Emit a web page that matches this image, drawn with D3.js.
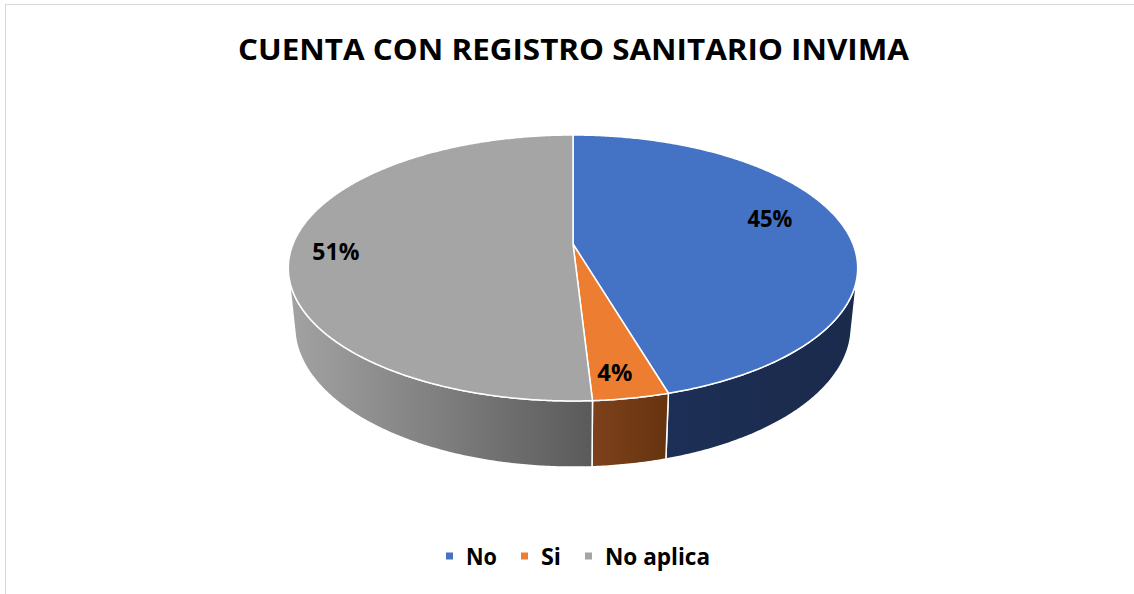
<!DOCTYPE html>
<html>
<head>
<meta charset="utf-8">
<script src="https://cdn.jsdelivr.net/npm/d3@7"></script>
<style>
  body { margin: 0; background: #fff; }
  text { font-family: "Open Sans", "Noto Sans", sans-serif; font-weight: 700; fill: #000; }
</style>
</head>
<body>
<svg id="chart"></svg>
<script>
const title = "CUENTA CON REGISTRO SANITARIO INVIMA";
const categories = ["No", "Si", "No aplica"];
const values = [25, 2, 28];
const topColors = ["#4472C4", "#ED7D31", "#A5A5A5"];
const sideColors = [["#1d2f56", "#1a2a4b"], ["#7d411c", "#66340f"], ["#a3a3a3", "#5a5a5a"]];

const width = 1134;
const height = 594;

const total = d3.sum(values);
const labels = values.map(v => Math.round(v / total * 100) + "%");

const svg = d3.select("#chart")
    .attr("width", width)
    .attr("height", height);

svg.append("rect")
    .attr("x", 5.5).attr("y", 4.5)
    .attr("width", width).attr("height", height)
    .attr("fill", "#fff")
    .attr("stroke", "#d9d9d9");

// camera for the tilted pie
const cam = { cx: 573, cy: 244, f: 1379, dist: 4.925, tilt: 27.35 * Math.PI / 180, depth: 0.238 };
const cosT = Math.cos(cam.tilt), sinT = Math.sin(cam.tilt);

function project(r, a, h) {
    let u = r * Math.sin(a), w = r * Math.cos(a);
    let yc = h * cosT + w * sinT;
    let zc = cam.dist + w * cosT - h * sinT;
    return [cam.cx + cam.f * u / zc, cam.cy - cam.f * yc / zc];
}

function arcPoints(a0, a1, h) {
    let n = Math.max(2, Math.ceil(Math.abs(a1 - a0) / (Math.PI / 360)));
    return d3.range(n + 1).map(i => project(1, a0 + (a1 - a0) * i / n, h));
}

const line = d3.line().curve(d3.curveLinearClosed);
const pie = d3.pie().sort(null).startAngle(0).endAngle(2 * Math.PI);
const slices = pie(values);

// side wall visible where cos(a) < -1/(dist*cos(tilt))
const visLimit = Math.acos(-1 / (cam.dist * cosT));
const wallMin = visLimit, wallMax = 2 * Math.PI - visLimit;

const defs = svg.append("defs");
const walls = svg.append("g");
const tops = svg.append("g");

slices.forEach((s, i) => {
    let a0 = Math.max(s.startAngle, wallMin);
    let a1 = Math.min(s.endAngle, wallMax);
    if (a1 <= a0) return;
    let pts = arcPoints(a0, a1, 0).concat(arcPoints(a1, a0, -cam.depth));
    let xs = d3.extent(pts, p => p[0]);
    let grad = defs.append("linearGradient")
        .attr("id", "wall" + i)
        .attr("gradientUnits", "userSpaceOnUse")
        .attr("x1", xs[0]).attr("x2", xs[1])
        .attr("y1", 0).attr("y2", 0);
    grad.append("stop").attr("offset", 0).attr("stop-color", sideColors[i][0]);
    grad.append("stop").attr("offset", 1).attr("stop-color", sideColors[i][1]);
    walls.append("path")
        .attr("d", line(pts))
        .attr("fill", `url(#wall${i})`)
        .attr("stroke", "#fff")
        .attr("stroke-width", 1.5)
        .attr("stroke-linejoin", "round");
});

slices.forEach((s, i) => {
    let pts = [project(0, 0, 0)].concat(arcPoints(s.startAngle, s.endAngle, 0));
    tops.append("path")
        .attr("d", line(pts))
        .attr("fill", topColors[i])
        .attr("stroke", "#fff")
        .attr("stroke-width", 1.5)
        .attr("stroke-linejoin", "round");
});

// data labels
const labelR = [0.72, 0.85, 0.84];
const labelNudge = [[1, -13], [-6, 2], [-1, 4]];
const labelWidth = [45, 35, 47];
slices.forEach((s, i) => {
    let mid = (s.startAngle + s.endAngle) / 2;
    let p = project(labelR[i], mid, 0);
    svg.append("text")
        .attr("x", p[0] + labelNudge[i][0])
        .attr("y", p[1] + labelNudge[i][1] + 8.5)
        .attr("text-anchor", "middle")
        .attr("font-size", 24)
        .attr("textLength", labelWidth[i])
        .attr("lengthAdjust", "spacingAndGlyphs")
        .text(labels[i]);
});

// title
svg.append("text")
    .attr("x", 573.5)
    .attr("y", 59.5)
    .attr("text-anchor", "middle")
    .attr("font-size", 29.4)
    .attr("textLength", 671)
    .attr("lengthAdjust", "spacingAndGlyphs")
    .text(title);

// legend
const legendWidth = [31, 20, 105];
const legend = svg.append("g");
let lx = 446;
categories.forEach((c, i) => {
    legend.append("rect")
        .attr("x", lx).attr("y", 552.5)
        .attr("width", 7).attr("height", 7)
        .attr("fill", topColors[i]);
    legend.append("text")
        .attr("x", lx + 20)
        .attr("y", 565)
        .attr("font-size", 24)
        .attr("textLength", legendWidth[i])
        .attr("lengthAdjust", "spacingAndGlyphs")
        .text(c);
    lx += 20 + legendWidth[i] + 24;
});
</script>
</body>
</html>
